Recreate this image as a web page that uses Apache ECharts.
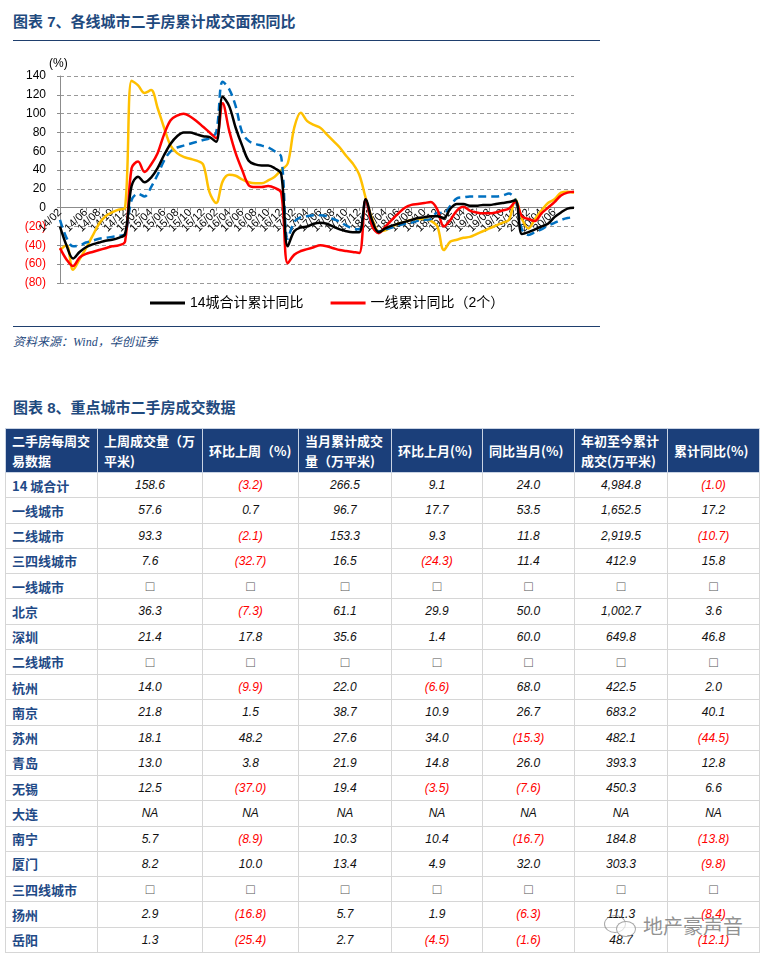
<!DOCTYPE html>
<html>
<head>
<meta charset="utf-8">
<script src="https://cdn.jsdelivr.net/npm/echarts@6/dist/echarts.min.js"></script>
<style>
  body { margin:0; background:#fff; }
  #page { position:relative; width:766px; height:958px; overflow:hidden; font-family:"Liberation Sans", Arial, "Noto Sans CJK SC", sans-serif; }
  .ttl { position:absolute; left:13px; font-size:15px; font-weight:bold; color:#1F4A7E; font-family:"Liberation Sans", Arial, "Noto Sans CJK SC", sans-serif; white-space:nowrap; }
  .hr { position:absolute; left:13px; width:587px; height:0; border-top:1.5px solid #1F3F6E; }
  #tbl { position:absolute; left:5px; top:428px; border-collapse:collapse; table-layout:fixed; width:754px; }
  #tbl th { background:#1B3F7A; color:#fff; font-weight:bold; font-size:13px; line-height:20px; text-align:left; padding:0 0 0 6px; border:1px solid #C9D3E3; height:43px; font-family:"Noto Sans CJK SC", sans-serif; }
  #tbl td { border:1px solid #D6D6D6; height:24.26px; padding:0; font-size:12px; font-style:italic; text-align:center; color:#111; }
  #tbl td.nm { text-align:left; padding-left:6px; font-style:normal; font-weight:bold; font-size:13px; color:#1F4A87; font-family:"Noto Sans CJK SC", sans-serif; }
  #tbl td.neg { color:#FF0000; }
  #tbl td.box { font-style:normal; font-size:14px; color:#555; }
  #tbl td.ibox { font-style:italic; font-size:14px; color:#555; }
</style>
</head>
<body>
<div id="page">
  <div class="ttl" style="top:10px;">图表 7、各线城市二手房累计成交面积同比</div>
  <div class="hr" style="top:40px;"></div>
  <div id="chart" style="position:absolute;left:0;top:0;width:766px;height:320px;"></div>
  <div style="position:absolute;left:49px;top:56px;font-size:12px;color:#000;">(%)</div>
  <div class="hr" style="top:326px;"></div>
  <div style="position:absolute;left:13px;top:332px;font-size:12px;font-style:italic;color:#1F4A7E;font-family:'Liberation Serif','Noto Sans CJK SC',serif;">资料来源：Wind，华创证券</div>
  <div class="ttl" style="top:396px;">图表 8、重点城市二手房成交数据</div>
  <table id="tbl"></table>
  <div style="position:absolute;left:604px;top:913px;width:34px;height:24px;">
    <div style="position:absolute;left:0;top:2px;width:20px;height:16px;border:1.5px solid rgba(130,130,130,0.7);border-radius:50%;"></div>
    <div style="position:absolute;left:12px;top:8px;width:18px;height:14px;border:1.5px solid rgba(130,130,130,0.7);border-radius:50%;background:rgba(255,255,255,0.6);"></div>
  </div>
  <div style="position:absolute;left:643px;top:911px;font-size:20px;color:rgba(110,110,110,0.75);font-family:'Noto Sans CJK SC',sans-serif;">地产豪声音</div>
</div>
<script>
// ---------- chart data ----------
const months = ["14/02","14/03","14/04","14/05","14/06","14/07","14/08","14/09","14/10","14/11","14/12",
"15/01","15/02","15/03","15/04","15/05","15/06","15/07","15/08","15/09","15/10","15/11","15/12",
"16/01","16/02","16/03","16/04","16/05","16/06","16/07","16/08","16/09","16/10","16/11","16/12",
"17/01","17/02","17/03","17/04","17/05","17/06","17/07","17/08","17/09","17/10","17/11","17/12",
"18/01","18/02","18/03","18/04","18/05","18/06","18/07","18/08","18/09","18/10","18/11","18/12",
"19/01","19/02","19/03","19/04","19/05","19/06","19/07","19/08","19/09","19/10","19/11","19/12",
"20/01","20/02","20/03","20/04","20/05","20/06","20/07","20/08","20/09"];

const city14 = [-20,-40,-54,-47,-42,-39,-37,-35,-34,-32,-28,
 23,33,27,32,42,56,68,76,80,80,78,76,
 75,70,118,108,85,66,50,46,45,45,42,36,
 -41,-25,-21,-20,-17,-16,-17,-20,-23,-25,-26,-26,
 9,-14,-26,-22,-19,-17,-15,-13,-11,-10,-9,-9,
 -11,-1,4,4,2,2,3,3,4,5,6,8,
 -28,-26,-23,-20,-17,-10,-5,-1,0];

const tier1 = [-43,-55,-62,-53,-49,-47,-45,-43,-41,-40,-36,
 42,49,38,46,58,78,93,98,100,97,92,86,
 80,74,111,82,58,40,24,22,22,23,21,16,
 -59,-50,-46,-44,-42,-40,-41,-43,-45,-46,-47,-48,
 9,-20,-27,-20,-13,-6,0,3,4,5,6,-2,
 -20,-13,-3,1,-3,-5,-6,-6,-5,-3,-1,6,
 -9,-12,-14,-6,0,6,13,16,17];

const tier2 = [-13,-32,-41,-40,-37,-35,-33,-32,-31,-30,-28,
 8,15,12,22,35,50,60,64,66,68,70,72,
 74,80,134,126,108,80,71,68,66,64,60,54,
 -33,-15,-10,-9,-8,-8,-9,-12,-15,-19,-22,-23,
 8,-21,-25,-23,-21,-19,-17,-16,-14,-13,-12,-5,
 -6,2,10,11,12,12,12,12,12,13,15,8,
 -23,-29,-26,-23,-19,-16,-13,-11,-10];

const tier34 = [-45,-40,-66,-55,-43,-30,-17,-9,-5,-2,0,
 135,130,122,125,106,85,66,58,54,52,50,46,
 16,5,28,35,34,30,27,26,26,29,33,40,
 47,85,101,92,88,85,78,71,64,55,47,35,
 10,-12,-25,-24,-20,-17,-15,-13,-12,-12,-14,-20,
 -45,-36,-34,-32,-31,-28,-25,-22,-19,-16,-13,9,
 -12,-22,-12,-3,5,9,16,17,16];

const yTicks = { min:-80, max:140, step:20 };

// ---------- table data ----------
const tableHeaders = ["二手房每周交<br>易数据","上周成交量（万<br>平米)","环比上周（%)","当月累计成交<br>量（万平米)","环比上月(%)","同比当月(%)","年初至今累计<br>成交(万平米)","累计同比(%)"];
const rowNames = ["14 城合计","一线城市","二线城市","三四线城市","一线城市","北京","深圳","二线城市","杭州","南京","苏州","青岛","无锡","大连","南宁","厦门","三四线城市","扬州","岳阳"];
const lastWeek   = ["158.6","57.6","93.3","7.6","□","36.3","21.4","◇","14.0","21.8","18.1","13.0","12.5","NA","5.7","8.2","◇","2.9","1.3"];
const wowPct     = ["(3.2)","0.7","(2.1)","(32.7)","□","(7.3)","17.8","◇","(9.9)","1.5","48.2","3.8","(37.0)","NA","(8.9)","10.0","◇","(16.8)","(25.4)"];
const monthCum   = ["266.5","96.7","153.3","16.5","□","61.1","35.6","◇","22.0","38.7","27.6","21.9","19.4","NA","10.3","13.4","◇","5.7","2.7"];
const momPct     = ["9.1","17.7","9.3","(24.3)","□","29.9","1.4","◇","(6.6)","10.9","34.0","14.8","(3.5)","NA","10.4","4.9","◇","1.9","(4.5)"];
const yoyMonth   = ["24.0","53.5","11.8","11.4","□","50.0","60.0","◇","68.0","26.7","(15.3)","26.0","(7.6)","NA","(16.7)","32.0","◇","(6.3)","(1.6)"];
const ytdCum     = ["4,984.8","1,652.5","2,919.5","412.9","□","1,002.7","649.8","◇","422.5","683.2","482.1","393.3","450.3","NA","184.8","303.3","◇","111.3","48.7"];
const ytdYoy     = ["(1.0)","17.2","(10.7)","15.8","□","3.6","46.8","◇","2.0","40.1","(44.5)","12.8","6.6","NA","(13.8)","(9.8)","◇","(8.4)","(12.1)"];

// ---------- build table ----------
(function(){
  const colW = [92,105,96,93,91,92,93,92];
  const cols = [lastWeek, wowPct, monthCum, momPct, yoyMonth, ytdCum, ytdYoy];
  let h = '<colgroup>' + colW.map(w => '<col style="width:'+w+'px">').join('') + '</colgroup>';
  h += '<tr>' + tableHeaders.map(t => '<th>'+t+'</th>').join('') + '</tr>';
  rowNames.forEach((n, r) => {
    h += '<tr><td class="nm">'+n+'</td>';
    cols.forEach(c => {
      let v = c[r], cls = '';
      if (v === '□') { cls = 'box'; }
      else if (v === '◇') { v = '□'; cls = 'ibox'; }
      else if (v.charAt(0) === '(') { cls = 'neg'; }
      h += '<td class="'+cls+'">'+v+'</td>';
    });
    h += '</tr>';
  });
  document.getElementById('tbl').innerHTML = h;
})();

// ---------- chart ----------
const gridTop = 76, gridH = 207;
const zeroOffset = -(gridH * (0 - yTicks.min) / (yTicks.max - yTicks.min)); // lift x axis to the zero line
const chart = echarts.init(document.getElementById('chart'), null, { renderer:'canvas' });
const lineSeries = (name, data, color, type, z) => ({
  name, type:'line', data, smooth:0.35, symbol:'none', showSymbol:false, z,
  lineStyle:{ color, width:2.5, type }, itemStyle:{ color }
});
chart.setOption({
  animation:false,
  textStyle:{ fontFamily:'"Liberation Sans", Arial, "Noto Sans CJK SC", sans-serif' },
  grid:{ left:60, top:gridTop, width:514, height:gridH, containLabel:false },
  legend:{
    data:['14城合计累计同比','一线累计同比（2个）'],
    icon:'rect',
    left:145, top:291, itemWidth:35, itemHeight:3, itemGap:27,
    textStyle:{ fontSize:14, color:'#000', fontFamily:'"Liberation Sans", Arial, "Noto Sans CJK SC", sans-serif' }
  },
  xAxis:{
    type:'category', data:months, boundaryGap:false, position:'bottom',
    offset: zeroOffset,
    axisLine:{ onZero:false, lineStyle:{ color:'#8c8c8c', width:1 } },
    axisTick:{ show:true, interval:1, length:3, lineStyle:{ color:'#8c8c8c' } },
    axisLabel:{ interval:1, rotate:45, fontSize:11, margin:3, color:'#000', hideOverlap:false, showMinLabel:true, showMaxLabel:false },
    splitLine:{ show:false }
  },
  yAxis:{
    type:'value', min:yTicks.min, max:yTicks.max, interval:yTicks.step,
    axisLine:{ show:true, lineStyle:{ color:'#8c8c8c', width:1 } },
    axisTick:{ show:true, length:3, lineStyle:{ color:'#8c8c8c' } },
    axisLabel:{
      fontSize:12, margin:14,
      formatter: v => v < 0 ? '(' + Math.abs(v) + ')' : String(v),
      color: v => (Number(v) < 0 || String(v).charAt(0) === '(') ? '#FF0000' : '#000'
    },
    splitLine:{ show:true, lineStyle:{ color:'#999', type:[4,3], width:1 } }
  },
  series:[
    lineSeries('三四线累计同比', tier34, '#FFC000', 'solid', 2),
    lineSeries('二线累计同比', tier2, '#0070C0', [8,5], 3),
    lineSeries('一线累计同比（2个）', tier1, '#FF0000', 'solid', 4),
    lineSeries('14城合计累计同比', city14, '#000000', 'solid', 5)
  ]
});
</script>
</body>
</html>
